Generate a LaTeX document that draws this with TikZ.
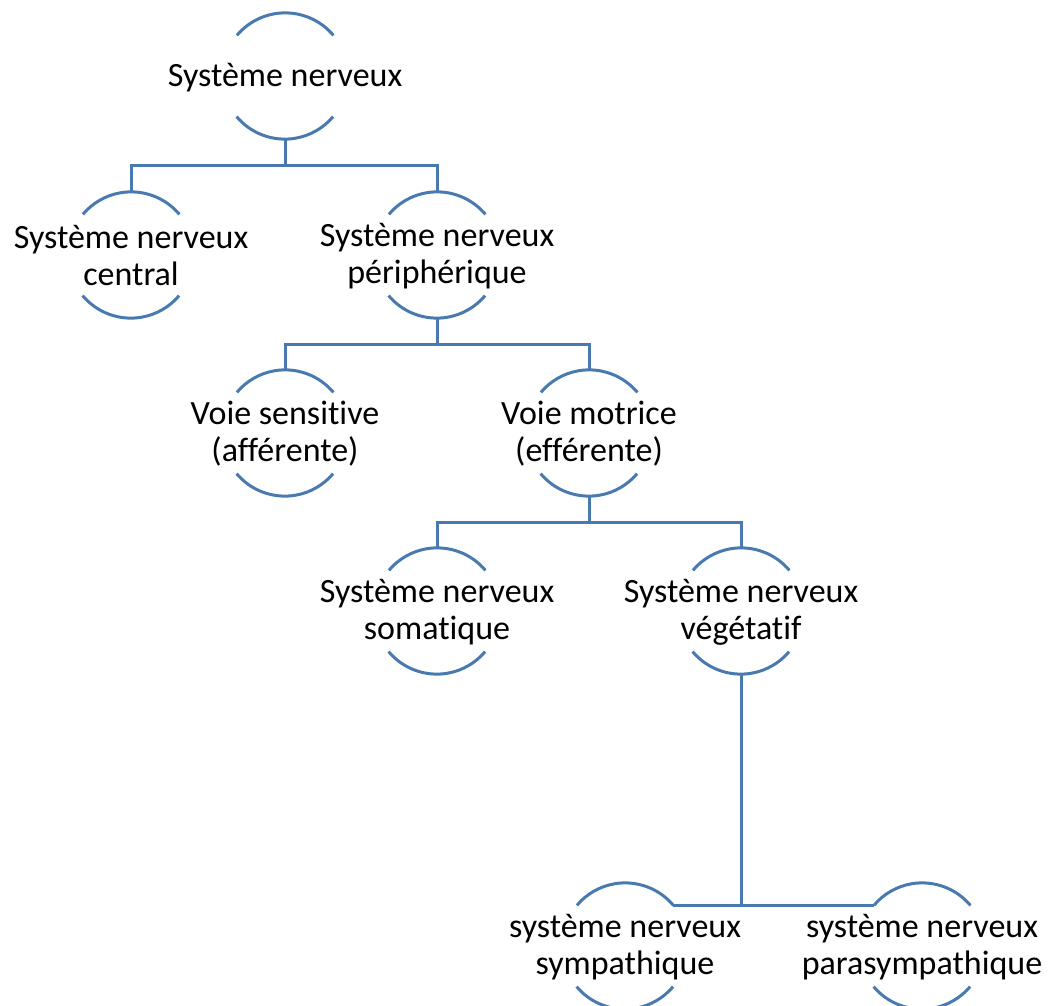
\documentclass[tikz,border=0pt]{standalone}
\usepackage{fontspec}
\setmainfont{Carlito}[Ligatures=NoCommon]
\begin{document}
\begin{tikzpicture}[x=1pt,y=1pt,
  circ/.style={circle, minimum size=126pt, inner sep=0pt, draw=none},
  txt/.style={font=\fontsize{34}{37}\selectfont, align=center, inner sep=0pt, text=black},
  arcline/.style={draw=smblue, line width=3pt},
  conn/.style={draw=smblue, line width=3pt}]
\definecolor{smblue}{RGB}{72,122,176}
\useasboundingbox (0,0) rectangle (1056,1005);
% nodes
\node[circ] (root) at (285,929) {};
\node[circ] (snc)  at (131,750) {};
\node[circ] (snp)  at (437,750) {};
\node[circ] (vs)   at (285,572) {};
\node[circ] (vm)   at (589,572) {};
\node[circ] (sns)  at (437,394) {};
\node[circ] (snv)  at (741,394) {};
\node[circ] (symp) at (625,59) {};
\node[circ] (para) at (922,59) {};
% texts
\node[txt] (troot) at ([yshift=-2pt]root.center) {Système nerveux};
\node[txt] (tsnc)  at ([yshift=-1pt]snc.center) {Système nerveux\\central};
\node[txt] (tsnp)  at ([yshift=-1pt]snp.center) {Système nerveux\\périphérique};
\node[txt] (tvs)   at ([yshift=-1pt]vs.center) {Voie sensitive\\(afférente)};
\node[txt] (tvm)   at ([yshift=-1pt]vm.center) {Voie motrice\\(efférente)};
\node[txt] (tsns)  at ([yshift=-1pt]sns.center) {Système nerveux\\somatique};
\node[txt] (tsnv)  at ([yshift=-1pt]snv.center) {Système nerveux\\végétatif};
\node[txt] (tsymp) at ([yshift=-1pt]symp.center) {système nerveux\\sympathique};
\node[txt] (tpara) at ([yshift=-1pt]para.center) {système nerveux\\parasympathique};
% arcs
\foreach \n in {root,snc,snp,vs,vm,sns,snv,symp,para}{
  \draw[arcline] (\n.40) arc[start angle=40, end angle=140, radius=63pt];
  \draw[arcline] (\n.220) arc[start angle=220, end angle=320, radius=63pt];
}
% connectors
\draw[conn] (root.south) -- ++(0,-26) -| (snc.north);
\draw[conn] (root.south) -- ++(0,-26) -| (snp.north);
\draw[conn] (snp.south) -- ++(0,-26) -| (vs.north);
\draw[conn] (snp.south) -- ++(0,-26) -| (vm.north);
\draw[conn] (vm.south) -- ++(0,-26) -| (sns.north);
\draw[conn] (vm.south) -- ++(0,-26) -| (snv.north);
\draw[conn] (snv.south) |- (symp.40);
\draw[conn] (snv.south) |- (para.140);
\end{tikzpicture}
\end{document}
